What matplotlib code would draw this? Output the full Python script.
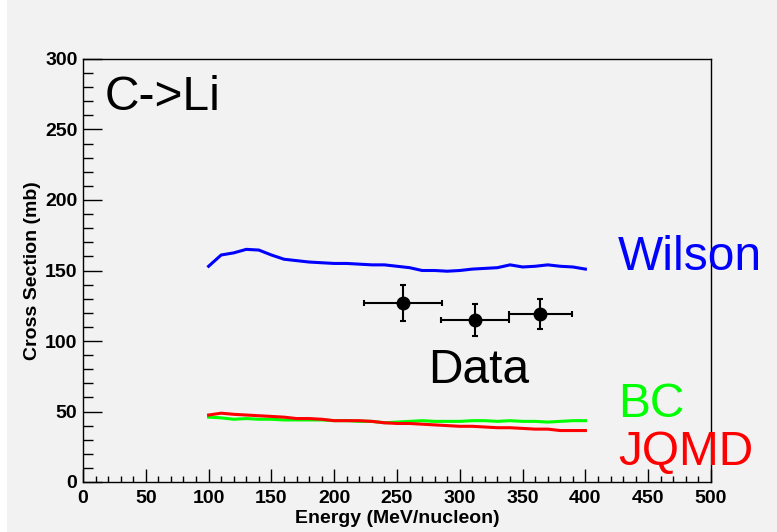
import matplotlib
matplotlib.use("Agg")
import matplotlib.pyplot as plt
from matplotlib.ticker import MultipleLocator
from matplotlib.patches import Rectangle

plt.rcParams['font.family'] = ['Liberation Sans', 'DejaVu Sans']

# model curves, energy grid in MeV/nucleon
energy = [100, 110, 120, 130, 140, 150, 160, 170, 180, 190, 200, 210, 220, 230, 240,
          250, 260, 270, 280, 290, 300, 310, 320, 330, 340, 350, 360, 370, 380, 390, 400]
wilson = [153, 161, 162.5, 165, 164.5, 161, 158, 157, 156, 155.5, 155, 155, 154.5, 154, 154,
          153, 152, 150, 150, 149.5, 150, 151, 151.5, 152, 154, 152.5, 153, 154, 153, 152.5, 151]
bc = [46, 45.5, 44.5, 45, 44.5, 44.5, 44, 44, 44, 44, 43.5, 43.5, 43, 43, 42,
      42.5, 43, 43.5, 43, 43, 43, 43.5, 43.5, 43, 43.5, 43, 43, 42.5, 43, 43.5, 43.5]
jqmd = [47.5, 48.8, 48, 47.5, 47, 46.5, 46, 45, 45, 44.5, 43.5, 43.5, 43.5, 43, 42,
        41.5, 41.5, 41, 40.5, 40, 39.5, 39.5, 39, 38.5, 38.5, 38, 37.5, 37.5, 36.5, 36.5, 36.5]

# measured points
data_e = [255, 312, 364]
data_e_err = [31, 27, 25]
data_xs = [127, 115, 119]
data_xs_err = [13, 11.5, 10.5]

bg = '#f2f2f2'
fig = plt.figure(figsize=(7.77, 5.32), dpi=100, facecolor=bg)
# thin white strip on the left edge of the canvas
fig.add_artist(Rectangle((0, 0), 7 / 777, 1, transform=fig.transFigure,
                         facecolor='white', edgecolor='none', zorder=-10))

ax = fig.add_axes([83 / 777, 1 - 482 / 532, 628 / 777, 423 / 532])
ax.set_facecolor(bg)

ax.plot(energy, wilson, color='#0000ff', lw=2.2)
ax.plot(energy, bc, color='#00ff00', lw=2.2)
ax.plot(energy, jqmd, color='#ff0000', lw=2.2)

ax.errorbar(data_e, data_xs, xerr=data_e_err, yerr=data_xs_err, fmt='o', color='black',
            ms=9, elinewidth=1.5, capsize=2.5, capthick=1.5, zorder=5)

ax.set_xlim(0, 500)
ax.set_ylim(0, 300)

ax.xaxis.set_major_locator(MultipleLocator(50))
ax.xaxis.set_minor_locator(MultipleLocator(10))
ax.yaxis.set_major_locator(MultipleLocator(50))
ax.yaxis.set_minor_locator(MultipleLocator(10))

ax.tick_params(axis='both', which='both', direction='in', top=False, right=False,
               colors='black', width=1)
ax.tick_params(axis='y', which='major', length=14, pad=4)
ax.tick_params(axis='y', which='minor', length=7)
ax.tick_params(axis='x', which='major', length=9.5, pad=6)
ax.tick_params(axis='x', which='minor', length=4.5)
for lab in ax.get_xticklabels() + ax.get_yticklabels():
    lab.set_fontsize(14)
    lab.set_fontweight('bold')

for s in ax.spines.values():
    s.set_linewidth(1)
    s.set_color('black')

ax.set_xlabel('Energy (MeV/nucleon)', fontsize=14, fontweight='bold', labelpad=2)
ax.set_ylabel('Cross Section (mb)', fontsize=14, fontweight='bold', labelpad=3)

# labels on the plot
big = 34.5
ax.text(17.5, 264, 'C->Li', fontsize=big, color='black', va='baseline', ha='left')
ax.text(274.5, 70, 'Data', fontsize=big, color='black', va='baseline', ha='left')
ax.text(426, 150, 'Wilson', fontsize=big, color='#0000ff', va='baseline', ha='left', clip_on=False)
ax.text(426, 46.3, 'BC', fontsize=big, color='#00ff00', va='baseline', ha='left', clip_on=False)
ax.text(426, 12, 'JQMD', fontsize=big, color='#ff0000', va='baseline', ha='left', clip_on=False)

fig.savefig('out.png', dpi=100, facecolor=bg)
